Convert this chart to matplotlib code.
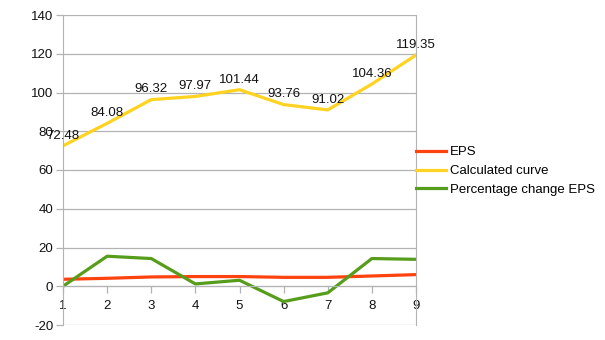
import matplotlib
matplotlib.use("Agg")
from matplotlib import pyplot as plt

plt.rcParams['font.family'] = ['Liberation Sans', 'DejaVu Sans']
plt.rcParams['axes.unicode_minus'] = False

periods = [1, 2, 3, 4, 5, 6, 7, 8, 9]
eps = [3.6, 4.1, 4.8, 5.0, 5.0, 4.6, 4.6, 5.3, 6.0]
calculated_curve = [72.48, 84.08, 96.32, 97.97, 101.44, 93.76, 91.02, 104.36, 119.35]
pct_change_eps = [0.0, 15.5, 14.3, 1.2, 3.1, -7.9, -3.4, 14.3, 13.9]
y_ticks = [-20, 0, 20, 40, 60, 80, 100, 120, 140]

grid_col = '#b3b3b3'

fig = plt.figure(figsize=(6.05, 3.4), dpi=100)
ax = fig.add_axes([63 / 605, 15 / 340, (416 - 63) / 605, (325 - 15) / 340])

ax.plot(periods, eps, color='#ff420e', lw=2.3, label='EPS')
ax.plot(periods, calculated_curve, color='#ffd320', lw=2.3, label='Calculated curve')
ax.plot(periods, pct_change_eps, color='#579d1c', lw=2.3, label='Percentage change EPS')

# value labels above the calculated curve
for x, v in zip(periods, calculated_curve):
    ax.annotate(f'{v:.2f}', (x, v), xytext=(0, 3), textcoords='offset points',
                ha='center', va='bottom', fontsize=9.5, color='#111111',
                annotation_clip=False)

ax.set_xlim(1, 9)
ax.set_ylim(-20, 140)
ax.set_yticks(y_ticks)
ax.set_xticks(periods)
ax.yaxis.grid(True, color=grid_col, lw=0.9)
ax.set_axisbelow(True)

ax.spines['top'].set_visible(False)
ax.spines['left'].set_color(grid_col)
ax.spines['right'].set_color(grid_col)
ax.spines['bottom'].set_position(('data', 0))
ax.spines['bottom'].set_color(grid_col)

ax.tick_params(axis='y', colors=grid_col, length=5, width=0.9, labelcolor='#111111',
               labelsize=9.5, pad=2)
ax.tick_params(axis='x', colors=grid_col, length=5, width=0.9, labelcolor='#111111',
               labelsize=9.5, pad=5)

fig.legend(loc='center left', bbox_to_anchor=(416 / 605, 1 - 171 / 340),
           frameon=False, fontsize=9.5, handlelength=2.3, handletextpad=0.3,
           labelspacing=0.5, borderpad=0, borderaxespad=0)

fig.savefig('out.png', dpi=100)
